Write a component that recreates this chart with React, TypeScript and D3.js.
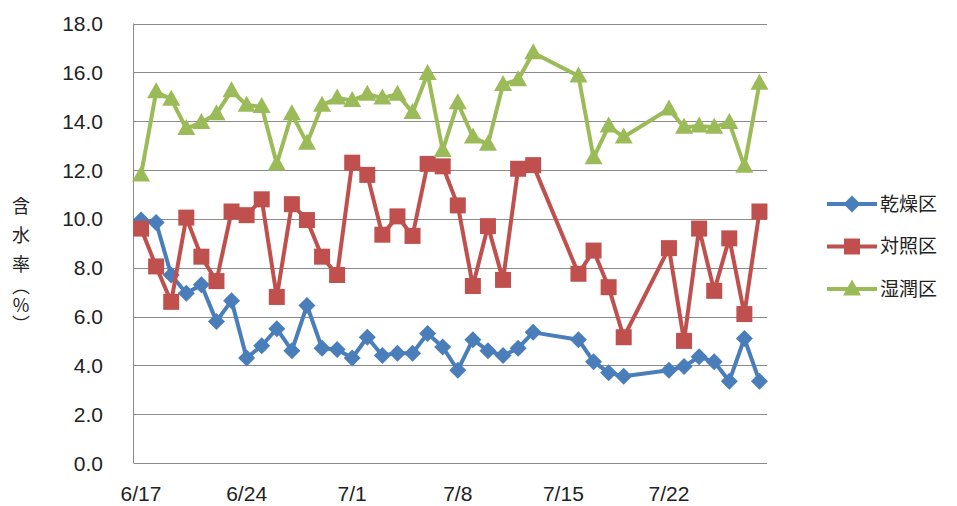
import React from "react";
import * as d3 from "d3";

const dates = [
  "6/17","6/18","6/19","6/20","6/21","6/22","6/23","6/24","6/25","6/26",
  "6/27","6/28","6/29","6/30","7/1","7/2","7/3","7/4","7/5","7/6",
  "7/7","7/8","7/9","7/10","7/11","7/12","7/13",
  "7/16","7/17","7/18","7/19",
  "7/22","7/23","7/24","7/25","7/26","7/27","7/28",
];

const dry = [
  9.95, 9.85, 7.7, 6.95, 7.3, 5.8, 6.65, 4.3, 4.8, 5.5,
  4.6, 6.45, 4.7, 4.65, 4.3, 5.15, 4.4, 4.5, 4.5, 5.3,
  4.75, 3.8, 5.05, 4.6, 4.4, 4.7, 5.35,
  5.05, 4.15, 3.7, 3.55,
  3.8, 3.95, 4.35, 4.15, 3.35, 5.1, 3.35,
];

const control = [
  9.6, 8.05, 6.6, 10.05, 8.45, 7.45, 10.3, 10.15, 10.8, 6.8,
  10.6, 9.95, 8.45, 7.7, 12.3, 11.8, 9.35, 10.1, 9.3, 12.25,
  12.15, 10.55, 7.25, 9.7, 7.5, 12.05, 12.2,
  7.75, 8.7, 7.2, 5.15,
  8.8, 5.0, 9.6, 7.05, 9.2, 6.1, 10.3,
];

const wet = [
  11.8, 15.2, 14.9, 13.7, 13.95, 14.3, 15.25, 14.65, 14.6, 12.25,
  14.3, 13.1, 14.65, 14.95, 14.85, 15.1, 14.95, 15.1, 14.35, 15.95,
  12.8, 14.75, 13.35, 13.05, 15.5, 15.7, 16.8,
  15.85, 12.5, 13.8, 13.35,
  14.5, 13.75, 13.8, 13.75, 13.95, 12.15, 15.55,
];

const seriesNames = ["乾燥区", "対照区", "湿潤区"];
const seriesColors = ["#4A7EBB", "#C0504D", "#9BBB59"];
const seriesMarkers = ["diamond", "square", "triangle"];
const xTickLabels = ["6/17", "6/24", "7/1", "7/8", "7/15", "7/22"];
const yTicks = [0, 2, 4, 6, 8, 10, 12, 14, 16, 18];
const yTitleChars = ["含", "水", "率", "︵", "%", "︶"];
const yTitleOffsets = [0, 29, 58, 80, 99, 118];

const parse = (s: string) => {
  const [m, d] = s.split("/").map(Number);
  return new Date(Date.UTC(2013, m - 1, d));
};
const HALF_DAY = 12 * 3600 * 1000;

function markerPath(kind: string, cx: number, cy: number) {
  if (kind === "diamond") {
    const r = 8.5;
    return `M${cx},${cy - r}L${cx + r},${cy}L${cx},${cy + r}L${cx - r},${cy}Z`;
  }
  if (kind === "square") {
    const h = 8;
    return `M${cx - h},${cy - h}H${cx + h}V${cy + h}H${cx - h}Z`;
  }
  const w = 9, up = 9.5, dn = 6.5;
  return `M${cx},${cy - up}L${cx + w},${cy + dn}L${cx - w},${cy + dn}Z`;
}

export default function App() {
  const W = 957, H = 506;
  const left = 133.5, right = 767, top = 23.5, bottom = 463;
  const first = parse(dates[0]);
  const last = parse(dates[dates.length - 1]);
  const x = d3
    .scaleUtc()
    .domain([new Date(+first - HALF_DAY), new Date(+last + HALF_DAY)])
    .range([left, right]);
  const y = d3.scaleLinear().domain([0, 18]).range([bottom, top]);

  const allSeries = [dry, control, wet];
  const line = d3
    .line<[Date, number]>()
    .x((d) => x(d[0]))
    .y((d) => y(d[1]));

  const font = "'Liberation Sans', Arial, sans-serif";
  const cjk = "'Noto Sans CJK JP', sans-serif";

  return (
    <svg
      width={W}
      height={H}
      style={{ position: "absolute", left: 0, top: 0, background: "#fff" }}
    >
      <rect x={0} y={0} width={W} height={H} fill="#fff" />
      {yTicks.map((t) => (
        <line
          key={t}
          x1={left}
          x2={right}
          y1={Math.round(y(t)) + 0.5}
          y2={Math.round(y(t)) + 0.5}
          stroke="#8a8a8a"
          strokeWidth={1}
        />
      ))}
      <line
        x1={left}
        x2={left}
        y1={top}
        y2={bottom}
        stroke="#8a8a8a"
        strokeWidth={1}
      />
      {yTicks.map((t) => (
        <text
          key={"yl" + t}
          x={103}
          y={y(t)}
          dy="0.36em"
          textAnchor="end"
          fontFamily={font}
          fontSize={21}
          fill="#222"
        >
          {t.toFixed(1)}
        </text>
      ))}
      {xTickLabels.map((l) => (
        <text
          key={"xl" + l}
          x={x(parse(l))}
          y={501}
          textAnchor="middle"
          fontFamily={font}
          fontSize={21}
          fill="#222"
        >
          {l}
        </text>
      ))}
      {yTitleChars.map((c, i) => (
        <text
          key={"yt" + i}
          x={21}
          y={207 + yTitleOffsets[i]}
          dy="0.36em"
          fontFamily={cjk}
          fontSize={18}
          fill="#222"
          textAnchor="middle"
        >
          {c}
        </text>
      ))}
      {allSeries.map((vals, si) => {
        const pts: [Date, number][] = vals.map((v, i) => [parse(dates[i]), v]);
        return (
          <g key={si}>
            <path
              d={line(pts) || ""}
              fill="none"
              stroke={seriesColors[si]}
              strokeWidth={4}
              strokeLinejoin="round"
            />
            {pts.map((p, i) => (
              <path
                key={i}
                d={markerPath(seriesMarkers[si], x(p[0]), y(p[1]))}
                fill={seriesColors[si]}
              />
            ))}
          </g>
        );
      })}
      {seriesNames.map((n, i) => {
        const ly = 204 + i * 42.5;
        return (
          <g key={n}>
            <line
              x1={827}
              x2={877}
              y1={ly}
              y2={ly}
              stroke={seriesColors[i]}
              strokeWidth={4}
            />
            <path d={markerPath(seriesMarkers[i], 852, ly)} fill={seriesColors[i]} />
            <text
              x={880}
              y={ly}
              dy="0.36em"
              fontFamily={cjk}
              fontSize={19}
              fill="#222"
            >
              {n}
            </text>
          </g>
        );
      })}
    </svg>
  );
}
